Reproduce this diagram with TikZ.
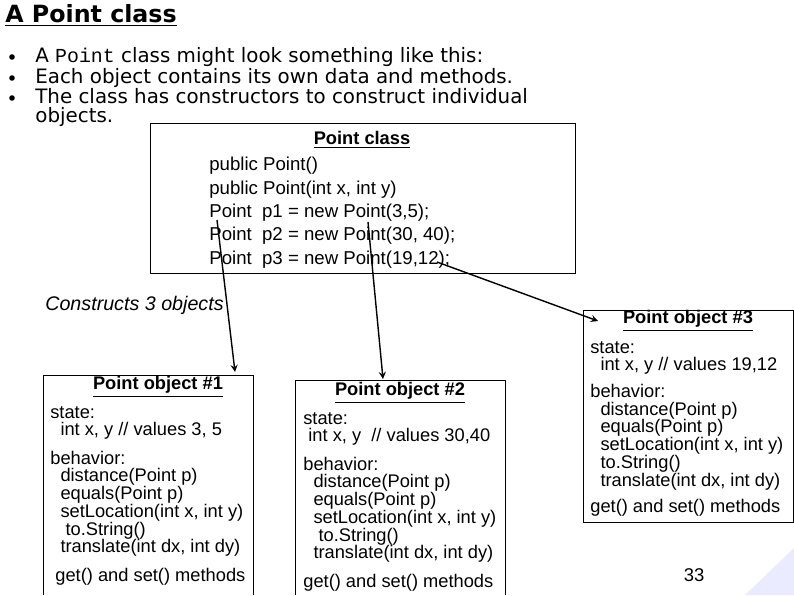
\documentclass[tikz,border=0pt]{standalone}
\usepackage{fontspec}
\setmainfont{Liberation Sans}
\newfontfamily\verd{DejaVu Sans}
\newfontfamily\cour{Liberation Mono}
\usetikzlibrary{positioning}
\begin{document}
\begin{tikzpicture}[x=0.02cm,y=-0.02cm,
  objbox/.style={draw, thin},
  txt/.style={anchor=north west, align=left, inner sep=0pt, font=\fontsize{10.4}{10.1}\selectfont},
  bul/.style={anchor=west, inner sep=0pt, font=\verd\fontsize{11.3}{10.8}\selectfont},
  link/.style={->, >=stealth, thick}
]
\useasboundingbox (0,0) rectangle (794,595);
\fill[blue!8] (794,548) -- (794,595) -- (745,595) -- cycle;

\node[anchor=west, inner sep=0pt, font=\verd\bfseries\fontsize{13.5}{12}\selectfont] (title) at (5,15) {\underline{A Point class}};
\foreach \yy in {57,78,98} \fill (12,\yy) circle (2.8);
\node[bul] (b1) at (35,57) {A {\cour Point} class might look something like this:};
\node[bul] (b2) at (35,78) {Each object contains its own data and methods.};
\node[bul, align=left] (b3) at (35,107.5) {The class has constructors to construct individual\\objects.};

% class box
\draw[objbox] (150,123) rectangle (575,273);
\node[inner sep=0pt, font=\bfseries\fontsize{10.4}{10}\selectfont] (cls) at (362,140) {\underline{Point class}};
\node[txt, font=\fontsize{10.6}{13.3}\selectfont] (code) at (209,157) {public Point()\\public Point(int x, int y)\\Point~ p1 = new Point(3,5);\\Point~ p2 = new Point(30, 40);\\Point~ p3 = new Point(19,12);};
\coordinate (s1) at (217,220);
\coordinate (s2) at (368,222);
\coordinate (s3) at (437,262);

\node[anchor=west, inner sep=0pt, font=\itshape\fontsize{11.2}{10}\selectfont] (cons) at (45,305) {Constructs 3 objects};

% object 1
\draw[objbox] (43,375) -- (43,595) (43,375) -- (253,375) -- (253,595);
\node[inner sep=0pt, font=\bfseries\fontsize{10.4}{10}\selectfont] (h1) at (158,387) {\underline{Point object \#1}};
\node[txt] (o1) at (50,406) {state:\\\ \ int x, y // values 3, 5\\[6pt]behavior:\\\ \ distance(Point p)\\\ \ equals(Point p)\\\ \ setLocation(int x, int y)\\\ \ \ to.String()\\\ \ translate(int dx, int dy)\\[6pt]\ get() and set() methods};
\coordinate (t1) at (235,372);

% object 2
\draw[objbox] (295,595) -- (295,380) -- (505,380) -- (505,595);
\node[inner sep=0pt, font=\bfseries\fontsize{10.4}{10}\selectfont] (h2) at (400,393) {\underline{Point object \#2}};
\node[txt] (o2) at (303,412) {state:\\\ int x, y~ // values 30,40\\[6pt]behavior:\\\ \ distance(Point p)\\\ \ equals(Point p)\\\ \ setLocation(int x, int y)\\\ \ \ to.String()\\\ \ translate(int dx, int dy)\\[6pt]get() and set() methods};
\coordinate (t2) at (383,379);

% object 3
\draw[objbox] (583,310) rectangle (793,522);
\node[inner sep=0pt, font=\bfseries\fontsize{10.4}{10}\selectfont] (h3) at (688,321) {\underline{Point object \#3}};
\node[txt] (o3) at (590,341) {state:\\\ \ int x, y // values 19,12\\[5pt]behavior:\\\ \ distance(Point p)\\\ \ equals(Point p)\\\ \ setLocation(int x, int y)\\\ \ to.String()\\\ \ translate(int dx, int dy)\\[5pt]get() and set() methods};
\coordinate (t3) at (598,321);

\draw[link] (s1) -- (t1);
\draw[link] (s2) -- (t2);
\draw[link] (s3) -- (t3);

\node[inner sep=0pt, font=\fontsize{10.5}{10}\selectfont] (pg) at (694,575) {33};
\end{tikzpicture}
\end{document}
